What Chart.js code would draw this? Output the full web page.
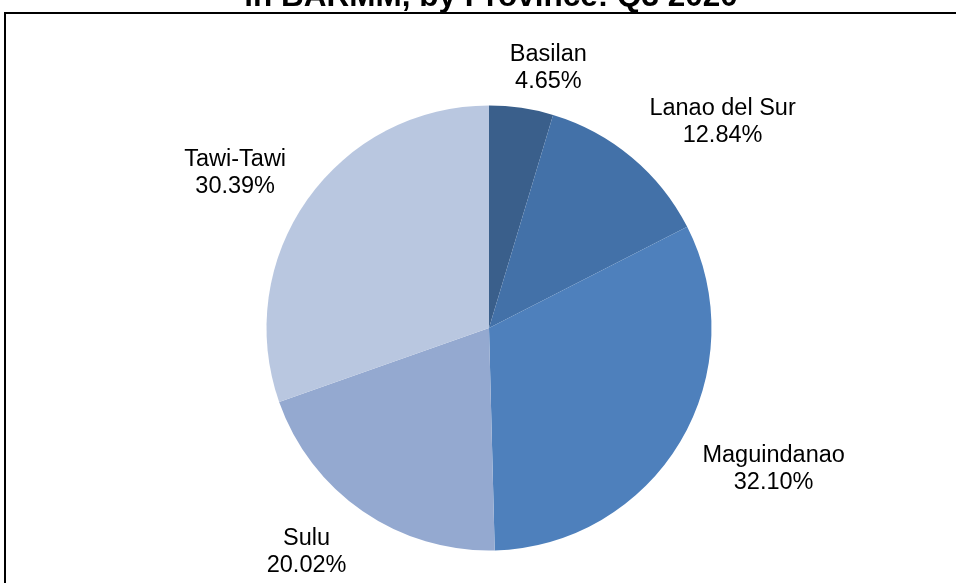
<!DOCTYPE html>
<html>
<head>
<meta charset="utf-8">
<script src="https://cdn.jsdelivr.net/npm/chart.js@4/dist/chart.umd.min.js"></script>
<style>
  html, body { margin: 0; padding: 0; background: #ffffff; overflow: hidden; }
  #wrap { position: relative; width: 956px; height: 583px; }
  canvas { position: absolute; left: 0; top: 0; }
</style>
</head>
<body>
<div id="wrap"><canvas id="c" width="956" height="583"></canvas></div>
<script>
const titleLine = "in BARMM, by Province: Q3 2020";
const provinces = ["Basilan", "Lanao del Sur", "Maguindanao", "Sulu", "Tawi-Tawi"];
const shares = [4.65, 12.84, 32.10, 20.02, 30.39];
const sliceColors = ["#3A5F8B", "#4371A8", "#4E80BC", "#94A9D0", "#B9C7E0"];

const FONT = '"Liberation Sans", Arial, sans-serif';

const framePlugin = {
  id: 'frameAndTitle',
  beforeDraw(chart) {
    const ctx = chart.ctx;
    ctx.save();
    ctx.fillStyle = '#ffffff';
    ctx.fillRect(0, 0, chart.width, chart.height);
    // title (only its last line is visible in the crop)
    ctx.fillStyle = '#000000';
    ctx.font = 'bold 31.5px ' + FONT;
    ctx.textAlign = 'center';
    ctx.textBaseline = 'alphabetic';
    ctx.fillText(titleLine, 491, 6);
    // frame
    ctx.strokeStyle = '#000000';
    ctx.lineWidth = 2;
    ctx.beginPath();
    ctx.moveTo(5, chart.height + 5);
    ctx.lineTo(5, 13);
    ctx.lineTo(chart.width + 5, 13);
    ctx.stroke();
    ctx.restore();
  }
};

const labelPlugin = {
  id: 'outsideLabels',
  afterDatasetsDraw(chart) {
    const ctx = chart.ctx;
    const meta = chart.getDatasetMeta(0);
    const fontSize = 23.5;
    const lineGap = 27;
    const halfH = 22;
    const padX = 5;
    const gap = 20;
    const baseShift = 2;
    ctx.save();
    ctx.font = fontSize + 'px ' + FONT;
    ctx.fillStyle = '#000000';
    ctx.textAlign = 'center';
    ctx.textBaseline = 'middle';
    const clamp = v => Math.max(-1, Math.min(1, v));
    meta.data.forEach((arc, i) => {
      const p = arc.getProps(['x', 'y', 'startAngle', 'endAngle', 'outerRadius'], true);
      const mid = (p.startAngle + p.endAngle) / 2;
      const ux = Math.cos(mid), uy = Math.sin(mid);
      const l1 = provinces[i];
      const l2 = shares[i].toFixed(2) + '%';
      const w = Math.max(ctx.measureText(l1).width, ctx.measureText(l2).width);
      const halfW = w / 2 + padX;
      const R = p.outerRadius + gap;
      const cx = p.x + ux * R + halfW * clamp(ux * 3.8);
      const cy = p.y + uy * R + halfH * clamp(uy * 1.3) + baseShift;
      ctx.fillText(l1, cx, cy - lineGap / 2);
      ctx.fillText(l2, cx, cy + lineGap / 2);
    });
    ctx.restore();
  }
};

new Chart(document.getElementById('c'), {
  type: 'pie',
  data: {
    labels: provinces,
    datasets: [{
      data: shares,
      backgroundColor: sliceColors,
      borderWidth: 0
    }]
  },
  options: {
    responsive: false,
    animation: false,
    rotation: 0,
    layout: { padding: { top: 105.5, bottom: 32.5, left: 22, right: 0 } },
    plugins: {
      legend: { display: false },
      tooltip: { enabled: false },
      title: { display: false }
    }
  },
  plugins: [framePlugin, labelPlugin]
});
</script>
</body>
</html>
